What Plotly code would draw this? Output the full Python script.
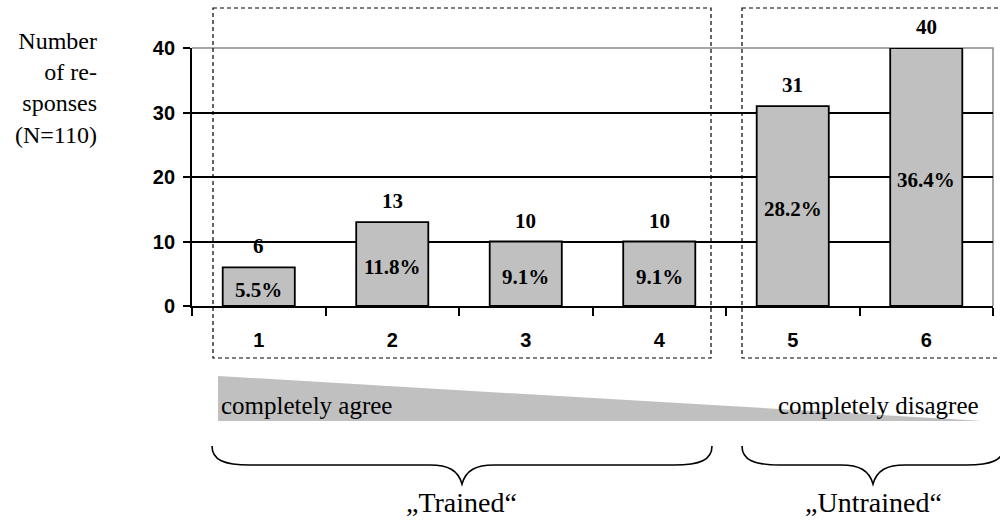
import plotly.graph_objects as go

# ---- data ----
categories = ["1", "2", "3", "4", "5", "6"]
counts = [6, 13, 10, 10, 31, 40]
percents = [5.5, 11.8, 9.1, 9.1, 28.2, 36.4]
y_ticks = [0, 10, 20, 30, 40]
y_title = "Number<br>of re-<br>sponses<br>(N=110)"
scale_left = "completely agree"
scale_right = "completely disagree"
group_labels = ["\u201eTrained\u201c", "\u201eUntrained\u201c"]

# ---- layout geometry (pixels) ----
W, H = 1000, 521
L, R, T, B = 192, 993, 48, 306
SERIF = "Liberation Serif, Times New Roman, serif"
SANS = "Liberation Sans, Arial, sans-serif"


def px(x):
    return (x - L) / (R - L)


def py(y):
    return (B - y) / (B - T)


def path(points_cmds):
    out = []
    for cmd, pts in points_cmds:
        coords = " ".join(f"{px(x):.5f},{py(y):.5f}" for x, y in pts)
        out.append(f"{cmd} {coords}")
    return " ".join(out)


fig = go.Figure()
fig.add_trace(go.Bar(
    x=categories, y=counts, width=0.54,
    marker=dict(color="#c0c0c0", line=dict(color="black", width=1.8)),
    hoverinfo="skip", showlegend=False,
))

annotations = []
for i, (v, p) in enumerate(zip(counts, percents)):
    annotations.append(dict(x=i, y=v, xref="x", yref="y", text=f"<b>{v}</b>",
                            showarrow=False, yanchor="bottom", yshift=7,
                            font=dict(family=SERIF, size=21, color="black")))
    annotations.append(dict(x=i, y=v / 2, xref="x", yref="y", text=f"<b>{p}%</b>",
                            showarrow=False, yanchor="middle", yshift=-3,
                            font=dict(family=SERIF, size=21, color="black")))

annotations.append(dict(x=px(99), y=py(88), xref="paper", yref="paper", text=y_title,
                        showarrow=False, xanchor="right", yanchor="middle", align="right",
                        font=dict(family=SERIF, size=24, color="black")))
annotations.append(dict(x=px(219), y=py(405), xref="paper", yref="paper", text=scale_left,
                        showarrow=False, xanchor="left", yanchor="middle",
                        font=dict(family=SERIF, size=25, color="black")))
annotations.append(dict(x=px(981), y=py(405), xref="paper", yref="paper", text=scale_right,
                        showarrow=False, xanchor="right", yanchor="middle",
                        font=dict(family=SERIF, size=25, color="black")))
for lbl, cx in zip(group_labels, [461, 873]):
    annotations.append(dict(x=px(cx), y=py(502), xref="paper", yref="paper", text=lbl,
                            showarrow=False, xanchor="center", yanchor="middle",
                            font=dict(family=SERIF, size=28, color="black")))

shapes = []
# agreement wedge
shapes.append(dict(type="path", xref="paper", yref="paper", layer="above",
                   path=path([("M", [(218, 376)]), ("L", [(983, 421)]), ("L", [(218, 421)])]) + " Z",
                   fillcolor="#c0c0c0", line=dict(width=0)))
# gray plot border (top & right)
shapes.append(dict(type="path", xref="paper", yref="paper", layer="between",
                   path=path([("M", [(L, T)]), ("L", [(R, T)]), ("L", [(R, B)])]),
                   line=dict(color="#8c8c8c", width=1.5)))
# dashed group boxes
for x0, x1 in [(213, 711), (742, 1006)]:
    shapes.append(dict(type="rect", xref="paper", yref="paper",
                       x0=px(x0), x1=px(x1), y0=py(8), y1=py(358),
                       line=dict(color="black", width=1.2, dash="4px,3px")))


def brace(x0, x1, ytop=446, ymid=465, ytip=484):
    m = (x0 + x1) / 2
    return path([
        ("M", [(x0, ytop)]),
        ("C", [(x0, ytop + 14), (x0 + 12, ymid), (x0 + 38, ymid)]),
        ("L", [(m - 32, ymid)]),
        ("C", [(m - 14, ymid), (m - 4, ymid + 5), (m, ytip)]),
        ("C", [(m + 4, ymid + 5), (m + 14, ymid), (m + 32, ymid)]),
        ("L", [(x1 - 38, ymid)]),
        ("C", [(x1 - 12, ymid), (x1, ytop + 14), (x1, ytop)]),
    ])


for x0, x1 in [(212, 712), (742, 1004)]:
    shapes.append(dict(type="path", xref="paper", yref="paper", path=brace(x0, x1),
                       line=dict(color="black", width=1.6)))

fig.update_layout(
    width=W, height=H,
    margin=dict(l=L, r=W - R, t=T, b=H - B, pad=0),
    paper_bgcolor="white", plot_bgcolor="white",
    annotations=annotations, shapes=shapes,
    xaxis=dict(type="category", categoryorder="array", categoryarray=categories,
               range=[-0.5, 5.5],
               tickson="boundaries", ticks="outside", ticklen=8, tickwidth=1.5,
               tickcolor="black", showline=True, linecolor="black", linewidth=1.8,
               showgrid=False, zeroline=False, ticklabelstandoff=15,
               tickfont=dict(family=SANS, size=20, color="black", weight=700),
               fixedrange=True),
    yaxis=dict(range=[0, 40], tickvals=y_ticks, ticks="outside", ticklen=7,
               tickwidth=1.5, tickcolor="black", showline=True, linecolor="black",
               linewidth=1.8, showgrid=True, gridcolor="black", gridwidth=1.6,
               zeroline=False, ticklabelstandoff=4,
               tickfont=dict(family=SANS, size=20, color="black", weight=700),
               fixedrange=True),
)

fig.write_html("out.html", config={"displayModeBar": False},
               post_script="document.body.style.margin='0';")
